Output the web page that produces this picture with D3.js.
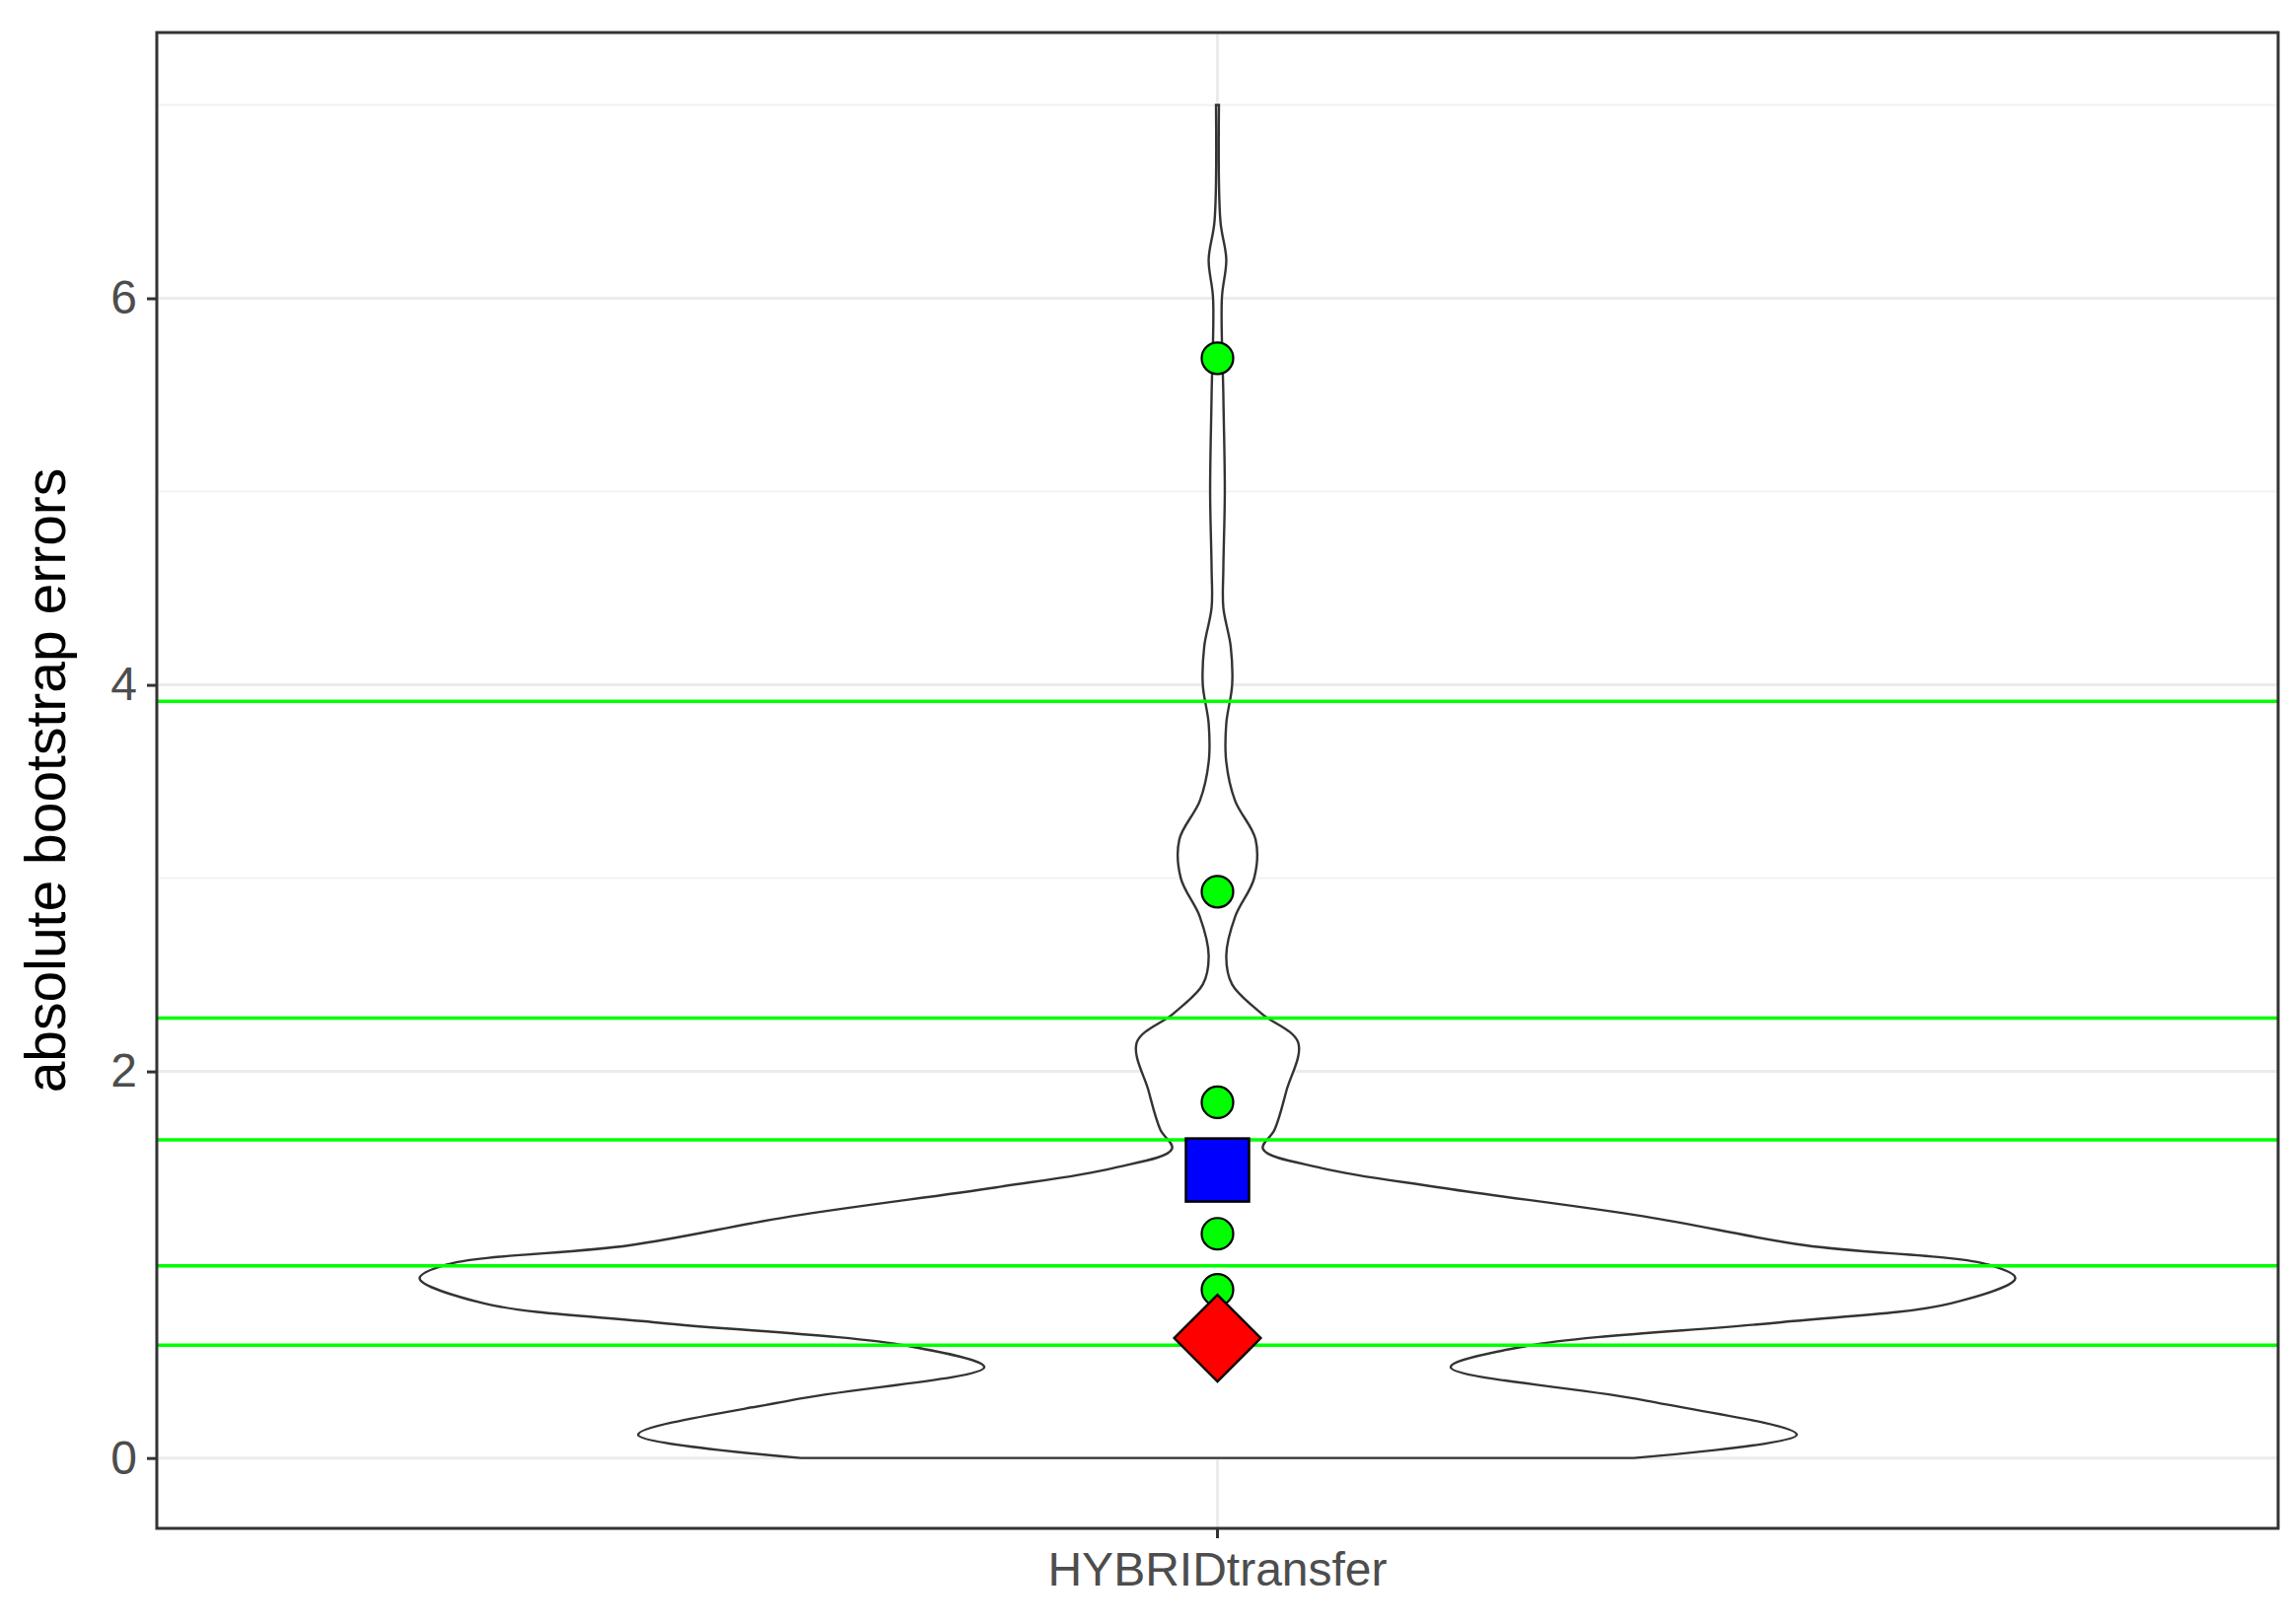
<!DOCTYPE html>
<html><head><meta charset="utf-8">
<script src="https://cdn.jsdelivr.net/npm/d3@7"></script>
<style>body{margin:0;background:#fff}</style></head>
<body><svg id="c" width="2320" height="1647"></svg>
<script>
const category = "HYBRIDtransfer";
const yTicks = [0, 2, 4, 6];
const yMinor = [1, 3, 5, 7];
const violinY = [0,0.12,0.3,0.47,0.58,0.7,0.8,0.93,1.0,1.1,1.25,1.4,1.5,1.6,1.7,1.9,2.15,2.3,2.45,2.6,2.8,3.0,3.2,3.4,3.6,3.8,4.0,4.2,4.4,4.6,5.0,5.5,6.0,6.2,6.4,7.0];
const violinD = [284,395,290,159,211,381,500,544,526,401,291,151,71,31,39,47,55,30,10,6,12,25,26,12,6,6,10,9,4,4,5,4,3,6,2,1];
const hLines = [3.915, 2.276, 1.646, 0.994, 0.584];
const greenPts = [5.69, 2.93, 1.84, 1.16, 0.87];
const bluePt = [1.49];
const redPt = [0.62];

const svg = d3.select("#c");
const L=159, R=2310, T=33, B=1550;
const y = d3.scaleLinear().domain([-0.364, 7.375]).range([B, T]);
const x = d3.scaleBand().domain([category]).range([L, R]);
const cx = x(category) + x.bandwidth()/2;
const w = d3.scaleLinear().domain([0, 544]).range([0, 809]);

svg.append("g").selectAll("line").data(yMinor).join("line")
  .attr("x1",L).attr("x2",R).attr("y1",d=>y(d)).attr("y2",d=>y(d))
  .attr("stroke","#f2f2f2").attr("stroke-width",2);
svg.append("g").selectAll("line").data(yTicks).join("line")
  .attr("x1",L).attr("x2",R).attr("y1",d=>y(d)).attr("y2",d=>y(d))
  .attr("stroke","#ebebeb").attr("stroke-width",3);
svg.append("line").attr("x1",cx).attr("x2",cx).attr("y1",T).attr("y2",B)
  .attr("stroke","#ebebeb").attr("stroke-width",3);

const pts = violinY.map((v,i)=>[cx + w(violinD[i]), y(v)]);
const ptsL = violinY.map((v,i)=>[cx - w(violinD[i]), y(v)]).reverse();
const line = d3.line().curve(d3.curveCatmullRom.alpha(0.5));
svg.append("path").attr("d", line(pts) + "L" + line(ptsL).slice(1) + "Z")
  .attr("fill","white").attr("stroke","#333").attr("stroke-width",2.4);

svg.append("g").selectAll("line").data(hLines).join("line")
  .attr("x1",L).attr("x2",R).attr("y1",d=>y(d)).attr("y2",d=>y(d))
  .attr("stroke","#00ff00").attr("stroke-width",3.5);

svg.append("g").selectAll("circle").data(greenPts).join("circle")
  .attr("cx",cx).attr("cy",d=>y(d)).attr("r",16)
  .attr("fill","#00ff00").attr("stroke","#000").attr("stroke-width",2.2);
svg.append("g").selectAll("rect").data(bluePt).join("rect")
  .attr("x",cx-32).attr("y",d=>y(d)-32).attr("width",64).attr("height",64)
  .attr("fill","#0000ff").attr("stroke","#000").attr("stroke-width",2.5);
svg.append("g").selectAll("path").data(redPt).join("path")
  .attr("d",d=>`M${cx},${y(d)-44}L${cx+44},${y(d)}L${cx},${y(d)+44}L${cx-44},${y(d)}Z`)
  .attr("fill","#ff0000").attr("stroke","#000").attr("stroke-width",2.2);

svg.append("rect").attr("x",L).attr("y",T).attr("width",R-L).attr("height",B-T)
  .attr("fill","none").attr("stroke","#333").attr("stroke-width",3);

const ya = svg.append("g").attr("transform",`translate(${L},0)`)
  .call(d3.axisLeft(y).tickValues(yTicks).tickSize(10).tickPadding(10));
const xa = svg.append("g").attr("transform",`translate(0,${B})`)
  .call(d3.axisBottom(x).tickSize(10).tickPadding(14));
[ya,xa].forEach(a=>{
  a.select(".domain").remove();
  a.selectAll(".tick line").attr("stroke","#333").attr("stroke-width",3);
  a.selectAll("text").attr("fill","#4d4d4d").attr("font-size",48).attr("font-family","Liberation Sans, Arial, sans-serif");
});
svg.append("text").attr("transform",`translate(66,${(T+B)/2}) rotate(-90)`)
  .attr("text-anchor","middle").attr("font-size",57).attr("font-family","Liberation Sans, Arial, sans-serif")
  .text("absolute bootstrap errors");
</script></body></html>
